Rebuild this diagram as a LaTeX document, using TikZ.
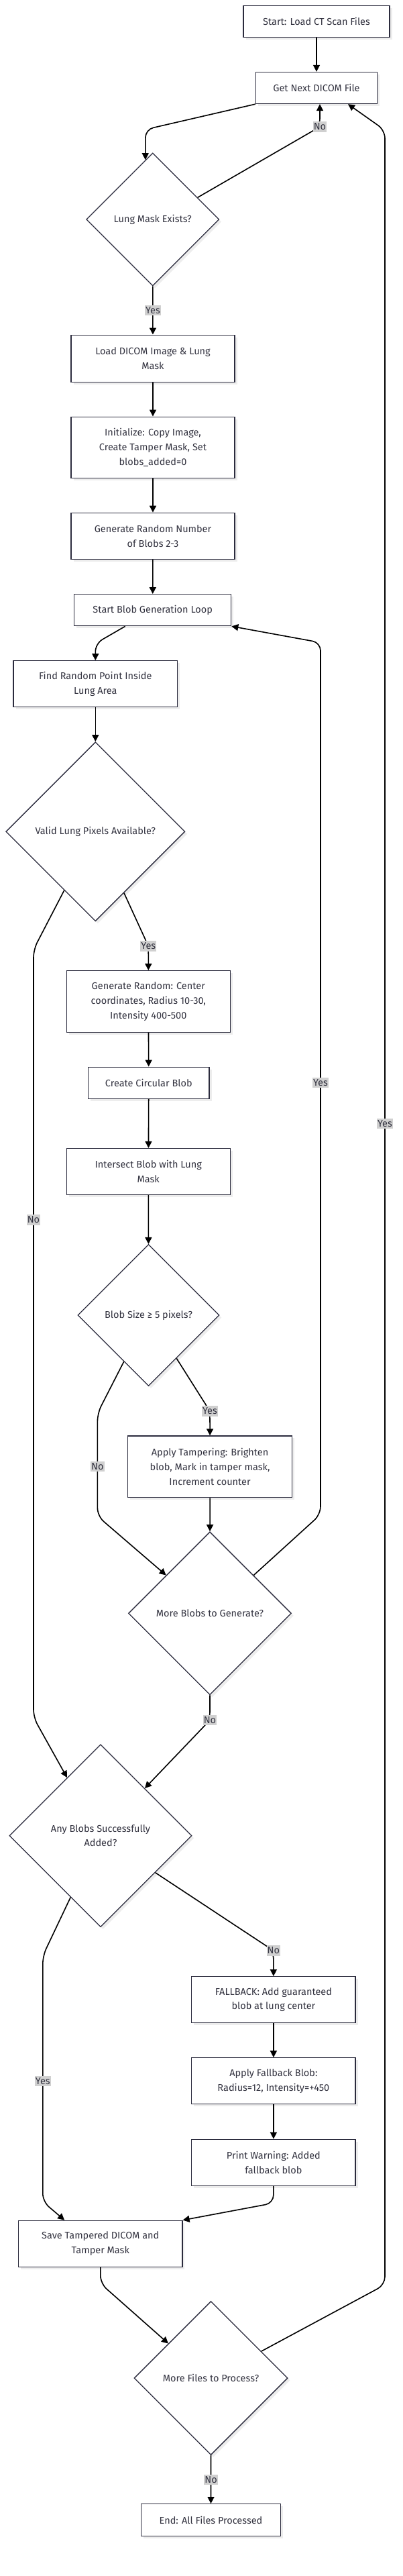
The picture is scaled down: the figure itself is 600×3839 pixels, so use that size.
\documentclass[tikz,border=0pt]{standalone}
\usepackage{fontspec}
\setmainfont{Fira Sans}
\usetikzlibrary{shapes.geometric,arrows.meta,shadows}
\definecolor{txt}{HTML}{333340}
\definecolor{bord}{HTML}{2B2B3D}
\definecolor{lblbg}{HTML}{D0D0D0}
\definecolor{shad}{HTML}{EDEDED}
\begin{document}
\begin{tikzpicture}[x=1pt,y=-1pt,
  box/.style={rectangle, draw=bord, line width=1.3pt, fill=white, text=txt, align=center,
    font=\fontsize{14.5}{21.7}\selectfont, inner sep=0pt,
    drop shadow={shadow xshift=3.5pt, shadow yshift=-3.5pt, fill=shad, opacity=1}},
  dia/.style={diamond, aspect=1, draw=bord, line width=1.3pt, fill=white, text=txt, align=center,
    font=\fontsize{14.5}{21.7}\selectfont, inner sep=0pt, minimum width=#1, minimum height=#1,
    drop shadow={shadow xshift=3.5pt, shadow yshift=-3.5pt, fill=shad, opacity=1}},
  arr/.style={draw=black, line width=1.6pt, -{Triangle[length=10pt,width=10pt]}, rounded corners=12pt},
  lbl/.style={fill=lblbg, text=txt, font=\fontsize{14.5}{16}\selectfont, inner xsep=1pt, inner ysep=2.5pt, sharp corners}
]
\fill[white] (0,0) rectangle (600,3839);
\useasboundingbox (0,0) rectangle (600,3839);

% nodes
\node[box, minimum width=218pt, minimum height=47pt] (start) at (472,31.7) {Start: Load CT Scan Files};
\node[box, minimum width=181pt, minimum height=47pt] (getnext) at (472,131) {Get Next DICOM File};
\node[dia=198pt] (lungmask) at (227.7,327) {Lung Mask Exists?};
\node[box, minimum width=244pt, minimum height=70pt] (loaddicom) at (228,534.2) {Load DICOM Image \& Lung\\Mask};
\node[box, minimum width=244pt, minimum height=91pt] (init) at (228,666.7) {Initialize: Copy Image,\\Create Tamper Mask, Set\\blobs\_added=0};
\node[box, minimum width=244pt, minimum height=69pt] (genrand) at (228,798.8) {Generate Random Number\\of Blobs 2-3};
\node[box, minimum width=234pt, minimum height=47pt] (startloop) at (227.7,909.2) {Start Blob Generation Loop};
\node[box, minimum width=244.6pt, minimum height=69pt] (findpt) at (142.3,1019.3) {Find Random Point Inside\\Lung Area};
\node[dia=267pt] (validlung) at (142.3,1239.3) {Valid Lung Pixels Available?};
\node[box, minimum width=244.3pt, minimum height=91.6pt] (genrandc) at (221.3,1492.5) {Generate Random: Center\\coordinates, Radius 10-30,\\Intensity 400-500};
\node[box, minimum width=180.5pt, minimum height=47pt] (circblob) at (221.8,1613.7) {Create Circular Blob};
\node[box, minimum width=244.3pt, minimum height=69pt] (intersect) at (221.3,1746) {Intersect Blob with Lung\\Mask};
\node[dia=211pt] (blobsize) at (221.5,1960) {Blob Size ≥ 5 pixels?};
\node[box, minimum width=244.6pt, minimum height=91.7pt] (applytamp) at (313.1,2185.8) {Apply Tampering: Brighten\\blob, Mark in tamper mask,\\Increment counter};
\node[dia=243pt] (moreblobs) at (313,2404.3) {More Blobs to Generate?};
\node[dia=272pt] (anyblobs) at (150,2735.7) {Any Blobs Successfully\\Added?};
\node[box, minimum width=244.2pt, minimum height=68.6pt] (fallback) at (407.9,2980) {FALLBACK: Add guaranteed\\blob at lung center};
\node[box, minimum width=244.2pt, minimum height=69pt] (applyfb) at (407.9,3101.3) {Apply Fallback Blob:\\Radius=12, Intensity=+450};
\node[box, minimum width=244.2pt, minimum height=69pt] (printwarn) at (407.9,3222.8) {Print Warning: Added\\fallback blob};
\node[box, minimum width=244.3pt, minimum height=69pt] (save) at (149.8,3343.8) {Save Tampered DICOM and\\Tamper Mask};
\node[dia=229pt] (morefiles) at (314.6,3544) {More Files to Process?};
\node[box, minimum width=208pt, minimum height=47.6pt] (end) at (314.5,3755.5) {End: All Files Processed};

% edges
\draw[arr] (start) -- (getnext);
\draw[arr] (getnext.south west) -- (216.9,193) -- (lungmask.97);
\draw[arr] (lungmask.26) -- (477,189) node[lbl]{No} -- ([xshift=5pt]getnext.south);
\draw[arr] (lungmask) -- node[lbl]{Yes} (loaddicom);
\draw[arr] (loaddicom) -- (init);
\draw[arr] (init) -- (genrand);
\draw[arr] (genrand) -- (startloop);
\draw[arr] ([xshift=-41pt]startloop.south) -- (142.3,959) -- (findpt.north);
\draw[arr] (findpt) -- (validlung);
\draw[arr] (validlung.-65) -- (221.3,1410) node[lbl]{Yes} -- (genrandc.north);
\draw[arr] (validlung.-118) -- (50,1415) -- node[lbl,pos=0.352]{No} (50,2559.6) -- (anyblobs.120);
\draw[arr] (genrandc) -- (circblob);
\draw[arr] (circblob) -- (intersect);
\draw[arr] (intersect) -- (blobsize);
\draw[arr] (blobsize.-57) -- (313,2103) node[lbl]{Yes} -- (applytamp.north);
\draw[arr] (blobsize.-118) -- (145.4,2106) -- node[lbl,pos=0.52]{No} (145.4,2259.5) -- (moreblobs.139);
\draw[arr] (applytamp) -- (moreblobs);
\draw[arr] (moreblobs.41) -- (478,2257) -- node[lbl,pos=0.495]{Yes} (478,957.6) -- (startloop.south east);
\draw[arr] (moreblobs.south) -- (313,2563.6) node[lbl]{No} -- (anyblobs.47);
\draw[arr] (anyblobs.-34) -- (407.8,2907) node[lbl]{No} -- (fallback.north);
\draw[arr] (anyblobs.-116) -- (63.8,2914.7) -- node[lbl,pos=0.509]{Yes} (63.8,3281) -- ([xshift=-53.6pt]save.north);
\draw[arr] (fallback) -- (applyfb);
\draw[arr] (applyfb) -- (printwarn);
\draw[arr] (printwarn.south) -- (407.8,3283.3) -- (save.north east);
\draw[arr] (save.south) -- (149.8,3403) -- (morefiles.141);
\draw[arr] (morefiles.28) -- (574,3405) -- node[lbl,pos=0.539]{Yes} (574,194) -- ([xshift=47pt]getnext.south);
\draw[arr] (morefiles) -- node[lbl]{No} (end);
\end{tikzpicture}
\end{document}
